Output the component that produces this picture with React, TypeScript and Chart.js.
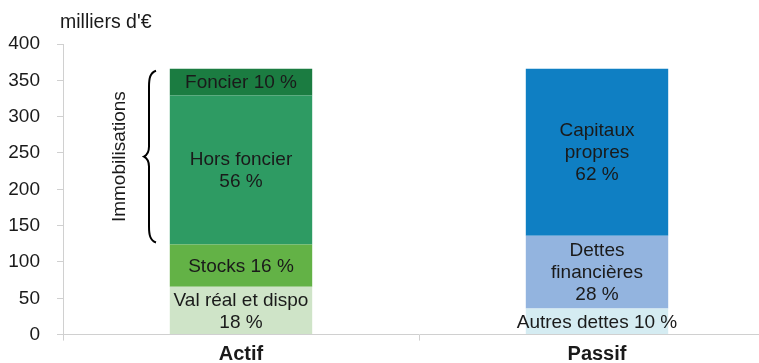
import React, { useEffect, useRef } from "react";
import { Chart, registerables } from "chart.js";

Chart.register(...registerables);

const categories = ["Actif", "Passif"];
const segmentNames = [
  "Val réal et dispo",
  "Stocks",
  "Hors foncier",
  "Foncier",
  "Autres dettes",
  "Dettes financières",
  "Capitaux propres",
];
const actifValues = [66, 58, 205, 37];
const passifValues = [36, 100, 230];
const segmentLabels = [
  ["Val réal et dispo", "18 %"],
  ["Stocks 16 %"],
  ["Hors foncier", "56 %"],
  ["Foncier 10 %"],
  ["Autres dettes 10 %"],
  ["Dettes", "financières", "28 %"],
  ["Capitaux", "propres", "62 %"],
];
const segmentColors = [
  "#cfe4c8",
  "#63b246",
  "#2e9b63",
  "#1b7c41",
  "#d5ecf2",
  "#93b4df",
  "#0f7fc3",
];
const yTicksMax = 400;
const yTicksStep = 50;
const unitLabel = "milliers d'€";
const braceLabel = "Immobilisations";

const FONT = "'Liberation Sans', Arial, sans-serif";

const labelPlugin = {
  id: "segLabels",
  afterDatasetsDraw(chart: any) {
    const ctx = chart.ctx;
    ctx.save();
    ctx.font = `19px ${FONT}`;
    ctx.fillStyle = "#1a1a1a";
    ctx.textAlign = "center";
    ctx.textBaseline = "middle";
    const lh = 22;
    chart.data.datasets.forEach((ds: any, i: number) => {
      const meta = chart.getDatasetMeta(i);
      ds.data.forEach((v: any, j: number) => {
        if (v == null) return;
        const el = meta.data[j];
        const lines = segmentLabels[i];
        const cy = (el.y + el.base) / 2;
        const start = cy - ((lines.length - 1) * lh) / 2;
        lines.forEach((t: string, k: number) => {
          ctx.fillText(t, el.x, start + k * lh + 1);
        });
      });
    });
    ctx.restore();
  },
};

const bracePlugin = {
  id: "brace",
  afterDraw(chart: any) {
    const ctx = chart.ctx;
    const y = chart.scales.y;
    const low = actifValues[0] + actifValues[1];
    const high = actifValues.reduce((a, b) => a + b, 0);
    const top = y.getPixelForValue(high) + 2;
    const bot = y.getPixelForValue(low) - 2;
    const mid = (top + bot) / 2;
    const xm = 149;
    ctx.save();
    ctx.strokeStyle = "#000";
    ctx.lineWidth = 2;
    ctx.beginPath();
    ctx.moveTo(xm + 7, top);
    ctx.bezierCurveTo(xm + 1, top + 2, xm, top + 8, xm, top + 16);
    ctx.lineTo(xm, mid - 10);
    ctx.bezierCurveTo(xm, mid - 4, xm - 3, mid - 1, xm - 5, mid);
    ctx.bezierCurveTo(xm - 3, mid + 1, xm, mid + 4, xm, mid + 10);
    ctx.lineTo(xm, bot - 16);
    ctx.bezierCurveTo(xm, bot - 8, xm + 1, bot - 2, xm + 7, bot);
    ctx.stroke();

    ctx.translate(120, mid);
    ctx.rotate(-Math.PI / 2);
    ctx.font = `19px ${FONT}`;
    ctx.fillStyle = "#1a1a1a";
    ctx.textAlign = "center";
    ctx.textBaseline = "middle";
    ctx.fillText(braceLabel, 0, 0);
    ctx.restore();

    ctx.save();
    ctx.font = `19.5px ${FONT}`;
    ctx.fillStyle = "#1a1a1a";
    ctx.textAlign = "left";
    ctx.textBaseline = "middle";
    ctx.fillText(unitLabel, 60, 23);
    ctx.restore();
  },
};

export default function App() {
  const ref = useRef<HTMLCanvasElement>(null);
  useEffect(() => {
    document.body.style.overflow = "hidden";
    const datasets = segmentNames.map((name, i) => ({
      label: name,
      data:
        i < actifValues.length
          ? [actifValues[i], null]
          : [null, passifValues[i - actifValues.length]],
      backgroundColor: segmentColors[i],
      borderWidth: 0,
      barPercentage: 0.4,
      categoryPercentage: 1,
      stack: "s",
    }));
    const chart = new Chart(ref.current!, {
      type: "bar",
      data: { labels: categories, datasets: datasets as any },
      options: {
        animation: false,
        responsive: false,
        maintainAspectRatio: false,
        layout: { padding: { top: 44, left: 0, right: 0, bottom: 0 } },
        plugins: { legend: { display: false }, tooltip: { enabled: false } },
        scales: {
          x: {
            stacked: true,
            grid: {
              display: true,
              drawOnChartArea: false,
              tickLength: 6,
              color: "#d0d0d0",
              offset: true,
            },
            border: { color: "#d0d0d0", width: 1 },
            ticks: {
              font: { family: FONT, size: 20, weight: "bold" },
              color: "#1a1a1a",
              padding: 2,
            },
            afterFit: (s: any) => {
              s.height = 28;
            },
          },
          y: {
            stacked: true,
            min: 0,
            max: yTicksMax,
            grid: {
              display: true,
              drawOnChartArea: false,
              tickLength: 6,
              color: "#d0d0d0",
            },
            border: { color: "#d0d0d0", width: 1 },
            ticks: {
              stepSize: yTicksStep,
              font: { family: FONT, size: 19 },
              color: "#1a1a1a",
              padding: 17,
            },
            afterFit: (s: any) => {
              s.width = 63;
            },
          },
        },
      },
      plugins: [labelPlugin, bracePlugin],
    });
    return () => chart.destroy();
  }, []);
  return (
    <div
      style={{
        position: "fixed",
        left: 0,
        top: 0,
        width: 759,
        height: 363,
        overflow: "hidden",
        background: "#fff",
      }}
    >
      <canvas ref={ref} width={775} height={363} style={{ display: "block" }} />
    </div>
  );
}
